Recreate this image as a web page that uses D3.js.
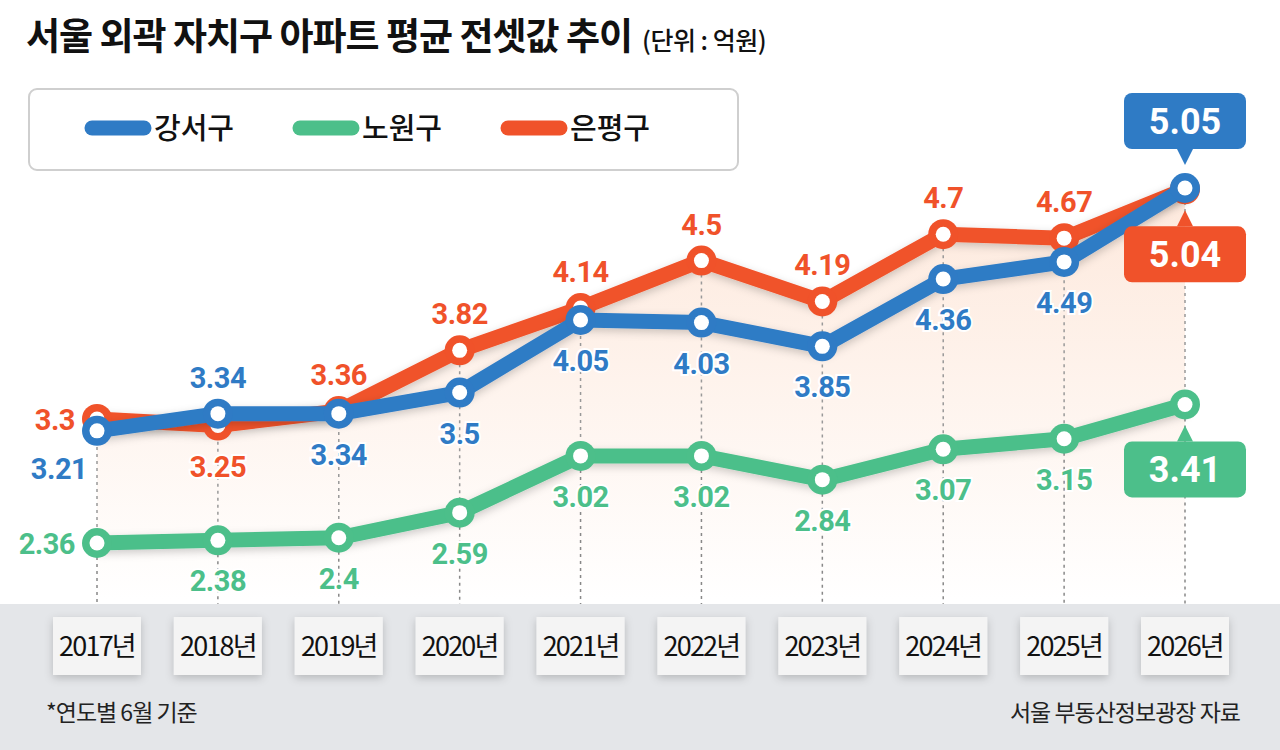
<!DOCTYPE html>
<html><head><meta charset="utf-8">
<script src="https://cdn.jsdelivr.net/npm/d3@7"></script>
<style>body{margin:0;background:#fff}svg{display:block;font-family:"Noto Sans CJK KR","Noto Sans",sans-serif}</style>
</head><body><div id="chart"></div>
<script>
const years = ["2017년","2018년","2019년","2020년","2021년","2022년","2023년","2024년","2025년","2026년"];
const gangseo = [3.21,3.34,3.34,3.5,4.05,4.03,3.85,4.36,4.49,5.05];
const nowon = [2.36,2.38,2.4,2.59,3.02,3.02,2.84,3.07,3.15,3.41];
const eunpyeong = [3.3,3.25,3.36,3.82,4.14,4.5,4.19,4.7,4.67,5.04];
// label placement: "a" above, "b" below, "l" left, "bl" below-left, "box" callout
const gangseoPos = ["bl","a","b","b","b","b","b","b","b","boxA"];
const nowonPos = ["l","b","b","b","b","b","b","b","b","boxB"];
const eunpyeongPos = ["l","b","a","a","a","a","a","a","a","boxB"];

const W = 1280, H = 750;
const svg = d3.select("#chart").append("svg").attr("width", W).attr("height", H);
const defs = svg.append("defs");
const grad = defs.append("linearGradient").attr("id","fade").attr("x1",0).attr("x2",0).attr("y1",0).attr("y2",1);
grad.append("stop").attr("offset","0%").attr("stop-color","#fde6d8").attr("stop-opacity",0.9);
grad.append("stop").attr("offset","100%").attr("stop-color","#fde6d8").attr("stop-opacity",0);
const sh = defs.append("filter").attr("id","sh").attr("x","-20%").attr("y","-20%").attr("width","140%").attr("height","160%");
sh.append("feDropShadow").attr("dx",0).attr("dy",3).attr("stdDeviation",4).attr("flood-color","#000").attr("flood-opacity",0.2);

const x = d3.scalePoint().domain(years).range([97, 1185]);
const y = d3.scaleLinear().domain([2.36, 5.05]).range([543, 188]);

const C = {blue:"#2f7bc5", green:"#4cbf8a", red:"#f0522a"};

// gray bottom band
svg.append("rect").attr("x",0).attr("y",604).attr("width",W).attr("height",H-604).attr("fill","#e4e6e9");

// title
svg.append("text").attr("x",26).attr("y",50).attr("font-size",37).attr("font-weight",700).attr("fill","#111").attr("letter-spacing",-1)
  .text("서울 외곽 자치구 아파트 평균 전셋값 추이")
  .append("tspan").attr("font-size",25).attr("font-weight",500).attr("dx",10).attr("letter-spacing",-0.5).text("(단위 : 억원)");

// legend
svg.append("rect").attr("x",29).attr("y",89).attr("width",709).attr("height",81).attr("rx",8)
  .attr("fill","#fff").attr("stroke","#cfcfcf").attr("stroke-width",2);
[["강서구",C.blue,92],["노원구",C.green,300],["은평구",C.red,508]].forEach(([t,c,lx])=>{
  svg.append("line").attr("x1",lx).attr("x2",lx+52).attr("y1",128).attr("y2",128)
    .attr("stroke",c).attr("stroke-width",15).attr("stroke-linecap","round");
  svg.append("text").attr("x",lx+62).attr("y",139).attr("font-size",29).attr("font-weight",500).attr("fill","#111").text(t);
});

// fade area under red line
svg.append("path").datum(eunpyeong)
  .attr("d", d3.area().x((d,i)=>x(years[i])).y0(600).y1(d=>y(d)))
  .attr("fill","url(#fade)");

// dashed guides
svg.selectAll(".guide").data(years).join("line")
  .attr("x1",d=>x(d)).attr("x2",d=>x(d)).attr("y1",(d,i)=>y(nowon[i])).attr("y2",604)
  .attr("stroke","#888").attr("stroke-width",1.5).attr("stroke-dasharray","3,4");
svg.selectAll(".guide2").data(years).join("line")
  .attr("x1",d=>x(d)).attr("x2",d=>x(d))
  .attr("y1",(d,i)=>y(Math.max(gangseo[i],eunpyeong[i]))).attr("y2",(d,i)=>y(nowon[i]))
  .attr("stroke","#999").attr("stroke-width",1.5).attr("stroke-dasharray","3,4");

// x axis boxes
const xg = svg.append("g");
years.forEach(yr=>{
  xg.append("rect").attr("x",x(yr)-44).attr("y",617).attr("width",88).attr("height",58)
    .attr("fill","#f4f4f4").attr("filter","url(#sh)");
  xg.append("text").attr("x",x(yr)).attr("y",656).attr("text-anchor","middle")
    .attr("font-size",27).attr("letter-spacing",-1.8).attr("fill","#111").text(yr);
});

svg.append("text").attr("x",46).attr("y",721).attr("font-size",23).attr("fill","#222").attr("letter-spacing",-1).text("*연도별 6월 기준");
svg.append("text").attr("x",1240).attr("y",721).attr("text-anchor","end").attr("font-size",23).attr("fill","#222").attr("letter-spacing",-1).text("서울 부동산정보광장 자료");

const line = d3.line().x((d,i)=>x(years[i])).y(d=>y(d));
function series(vals, col){
  const g = svg.append("g");
  g.append("path").datum(vals).attr("d",line).attr("fill","none").attr("stroke",col)
    .attr("stroke-width",15).attr("stroke-linejoin","round").attr("filter","url(#sh)");
  vals.forEach((v,i)=>{
    const cx = x(years[i]), cy = y(v);
    g.append("circle").attr("cx",cx).attr("cy",cy).attr("r",15).attr("fill",col);
    g.append("circle").attr("cx",cx).attr("cy",cy).attr("r",7.5).attr("fill","#fff");
  });
}
series(nowon, C.green);
series(eunpyeong, C.red);
series(gangseo, C.blue);

function labels(vals, pos, col){
  vals.forEach((v,i)=>{
    const cx = x(years[i]), cy = y(v), p = pos[i];
    if (p.startsWith("box")) {
      const bx = cx, by = p==="boxA" ? cy-67 : cy+65;
      const w = 122, h = 56;
      svg.append("rect").attr("x",bx-w/2).attr("y",by-h/2).attr("width",w).attr("height",h).attr("rx",8).attr("fill",col);
      const ty = p==="boxA" ? [by+h/2, by+h/2+16] : [by-h/2, by-h/2-16];
      svg.append("path").attr("d",`M${bx-8},${ty[0]}L${bx+8},${ty[0]}L${bx},${ty[1]}Z`).attr("fill",col);
      svg.append("text").attr("x",bx).attr("y",by+13).attr("text-anchor","middle").attr("font-size",36)
        .attr("font-weight",700).attr("fill","#fff").attr("font-family","Roboto, sans-serif").text(v);
      return;
    }
    let tx = cx, ty = cy, anchor = "middle";
    if (p==="a") ty = cy-26;
    if (p==="b") ty = cy+51;
    if (p==="l") { tx = cx-22; ty = cy+11; anchor = "end"; }
    if (p==="bl") { ty = cy+48; tx = cx-38; }
    svg.append("text").attr("x",tx).attr("y",ty).attr("text-anchor",anchor).attr("font-size",29)
      .attr("font-weight",700).attr("fill",col).attr("font-family","Roboto, sans-serif").attr("letter-spacing",-0.5)
      .attr("stroke","#fff").attr("stroke-width",4).attr("paint-order","stroke").text(v);
  });
}
labels(nowon, nowonPos, C.green);
labels(eunpyeong, eunpyeongPos, C.red);
labels(gangseo, gangseoPos, C.blue);
</script></body></html>
